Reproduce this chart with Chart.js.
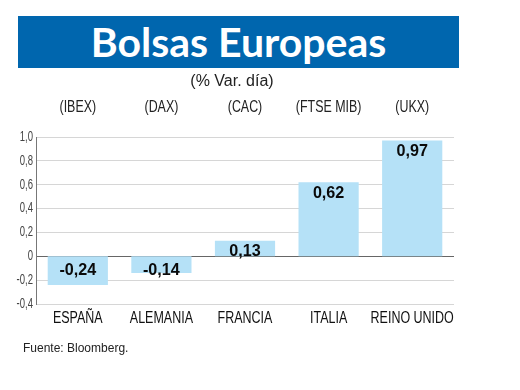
<!DOCTYPE html>
<html>
<head>
<meta charset="utf-8">
<script src="https://cdn.jsdelivr.net/npm/chart.js@4.4.0/dist/chart.umd.min.js"></script>
<style>
body { margin: 0; background: #fff; }
#wrap { position: relative; width: 520px; height: 390px; overflow: hidden; }
#banner { position: absolute; left: 18px; top: 16px; width: 441px; height: 52px; background: #0066ae;
  color: #fff; font: bold 41px Lato, sans-serif; text-align: center; line-height: 52px; }
#sub { position: absolute; left: 0; width: 464px; top: 72px; text-align: center;
  font: 16px "Liberation Sans", Arial, sans-serif; color: #222; }
#src { position: absolute; left: 23px; top: 341px; font: 12px "Liberation Sans", Arial, sans-serif; color: #222; }
canvas { position: absolute; left: 0; top: 0; }
</style>
</head>
<body>
<div id="wrap">
  <canvas id="canvas" width="520" height="390"></canvas>
  <div id="banner">Bolsas Europeas</div>
  <div id="sub">(% Var. día)</div>
  <div id="src">Fuente: Bloomberg.</div>
</div>
<script>
var countries = ['ESPAÑA', 'ALEMANIA', 'FRANCIA', 'ITALIA', 'REINO UNIDO'];
var indices = ['(IBEX)', '(DAX)', '(CAC)', '(FTSE MIB)', '(UKX)'];
var changes = [-0.24, -0.14, 0.13, 0.62, 0.97];

var sans = '"Liberation Sans", Arial, sans-serif';

function comma(v, d) {
    if (Math.abs(v) < 1e-9) return '0';
    return v.toFixed(d).replace('.', ',');
}

// condensed text: squeeze horizontally around x
function narrowText(ctx, t, x, y, sx) {
    ctx.save();
    ctx.translate(x, y);
    ctx.scale(sx, 1);
    ctx.fillText(t, 0, 0);
    ctx.restore();
}

var labelsPlugin = {
    id: 'labels',
    afterDatasetsDraw: function (chart) {
        var ctx = chart.ctx;
        var xs = chart.scales.x;
        var ys = chart.scales.y;
        ctx.save();
        ctx.textBaseline = 'middle';

        // y tick labels
        ctx.textAlign = 'right';
        ctx.fillStyle = '#444';
        ctx.font = '14px ' + sans;
        ys.ticks.forEach(function (t) {
            narrowText(ctx, comma(t.value, 1), 33, ys.getPixelForValue(t.value), 0.68);
        });

        ctx.textAlign = 'center';
        // index names above the bars
        ctx.fillStyle = '#222';
        ctx.font = '17px ' + sans;
        indices.forEach(function (t, i) {
            narrowText(ctx, t, xs.getPixelForValue(i), 107, 0.73);
        });
        // category names below
        ctx.fillStyle = '#111';
        ctx.font = '16px ' + sans;
        countries.forEach(function (t, i) {
            narrowText(ctx, t, xs.getPixelForValue(i), 319, 0.78);
        });
        // values inside the bars
        var meta = chart.getDatasetMeta(0);
        ctx.fillStyle = '#0a0a0a';
        ctx.font = 'bold 17px ' + sans;
        meta.data.forEach(function (bar, i) {
            var v = changes[i];
            var y = v >= 0 ? bar.y + 11 : bar.base + 14;
            narrowText(ctx, comma(v, 2), bar.x, y, 0.95);
        });
        ctx.restore();
    }
};

var ctx = document.getElementById('canvas').getContext('2d');
var myChart = new Chart(ctx, {
    type: 'bar',
    data: {
        labels: countries,
        datasets: [{
            data: changes,
            backgroundColor: '#b5e1f7',
            borderWidth: 0,
            barPercentage: 0.72,
            categoryPercentage: 1
        }]
    },
    options: {
        responsive: false,
        animation: false,
        devicePixelRatio: 1,
        layout: { padding: { top: 137, left: 0, right: 66, bottom: 56 } },
        plugins: { legend: { display: false }, tooltip: { enabled: false } },
        scales: {
            x: {
                grid: { display: false },
                border: { display: false },
                ticks: { display: false },
                afterFit: function (s) { s.height = 30; }
            },
            y: {
                min: -0.4,
                max: 1.0,
                grid: {
                    drawTicks: false,
                    color: function (c) { return c.tick && Math.abs(c.tick.value) < 1e-9 ? '#666' : '#d6d6d6'; }
                },
                border: { display: true, color: '#777' },
                ticks: { stepSize: 0.2, display: false },
                afterFit: function (s) { s.width = 36; }
            }
        }
    },
    plugins: [labelsPlugin]
});
</script>
</body>
</html>
